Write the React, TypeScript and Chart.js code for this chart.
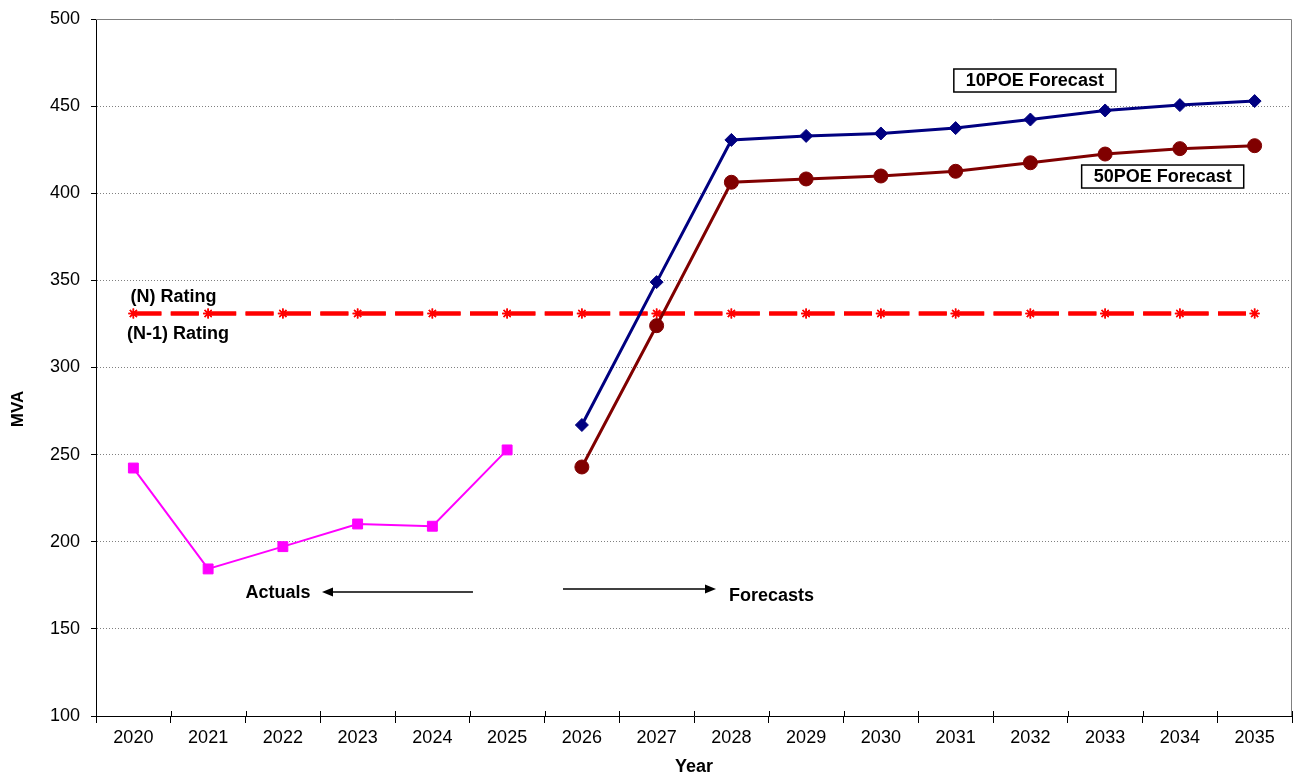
import React, { useEffect, useRef } from 'react';
import { Chart, registerables } from 'chart.js';

Chart.register(...registerables);

// ---- data ----
const years = ['2020', '2021', '2022', '2023', '2024', '2025', '2026', '2027', '2028', '2029', '2030', '2031', '2032', '2033', '2034', '2035'];
const actuals = [242.3, 184.4, 197.2, 210.2, 208.9, 252.7, null, null, null, null, null, null, null, null, null, null];
const poe10Forecast = [null, null, null, null, null, null, 267.0, 349.0, 430.6, 432.9, 434.3, 437.4, 442.3, 447.5, 450.6, 452.9];
const poe50Forecast = [null, null, null, null, null, null, 242.9, 324.0, 406.3, 408.2, 409.9, 412.6, 417.5, 422.5, 425.6, 427.3];
const nRating = [331, 331, 331, 331, 331, 331, 331, 331, 331, 331, 331, 331, 331, 331, 331, 331];
const n1Rating = [331, 331, 331, 331, 331, 331, 331, 331, 331, 331, 331, 331, 331, 331, 331, 331];
const yTicks = [100, 150, 200, 250, 300, 350, 400, 450, 500];

// ---- notes placed in data units (category index, MVA) ----
const plainNotes = [
  { text: '(N) Rating', x: 0.536, y: 340.5 },
  { text: '(N-1) Rating', x: 0.597, y: 319.2 },
  { text: 'Actuals', x: 1.934, y: 170.6 },
  { text: 'Forecasts', x: 8.536, y: 168.9 },
];
const boxedNotes = [
  { text: '10POE Forecast', x: 12.06, y: 464.7 },
  { text: '50POE Forecast', x: 13.77, y: 409.6 },
];
const arrows = [
  { from: [4.543, 171.2], to: [2.523, 171.2] },
  { from: [5.747, 172.9], to: [7.794, 172.9] },
];

const FAMILY = '"Liberation Sans", Arial, Helvetica, sans-serif';
const WIDTH = 1295;
const HEIGHT = 778;

const decorations = {
  id: 'decorations',
  beforeDatasetsDraw(chart: any) {
    const { ctx, chartArea: a } = chart;
    const xs = chart.scales.x;
    ctx.save();
    // grey frame along the top and right of the plot area
    ctx.strokeStyle = '#808080';
    ctx.lineWidth = 1;
    ctx.beginPath();
    ctx.moveTo(a.left, Math.round(a.top) + 0.5);
    ctx.lineTo(Math.round(a.right) - 0.5, Math.round(a.top) + 0.5);
    ctx.lineTo(Math.round(a.right) - 0.5, a.bottom);
    ctx.stroke();
    // upper half of the crossing tick marks on the category axis
    ctx.strokeStyle = '#000';
    ctx.beginPath();
    for (let i = 0; i <= years.length; i++) {
      const px = Math.round(xs.getPixelForValue(i - 0.5)) + 0.5;
      ctx.moveTo(px, a.bottom - 5);
      ctx.lineTo(px, a.bottom);
    }
    ctx.stroke();
    ctx.restore();
  },
  afterDatasetsDraw(chart: any) {
    const { ctx } = chart;
    const xs = chart.scales.x;
    const ys = chart.scales.y;
    ctx.save();
    ctx.fillStyle = '#000';
    ctx.textAlign = 'center';
    ctx.textBaseline = 'middle';
    ctx.font = `bold 18px ${FAMILY}`;
    for (const n of plainNotes) {
      ctx.fillText(n.text, xs.getPixelForValue(n.x), ys.getPixelForValue(n.y));
    }
    for (const n of boxedNotes) {
      const cx = xs.getPixelForValue(n.x);
      const cy = ys.getPixelForValue(n.y);
      const w = ctx.measureText(n.text).width + 24;
      const h = 23;
      ctx.fillStyle = '#fff';
      ctx.fillRect(cx - w / 2, cy - h / 2, w, h);
      ctx.strokeStyle = '#000';
      ctx.lineWidth = 1.5;
      ctx.strokeRect(cx - w / 2, cy - h / 2, w, h);
      ctx.fillStyle = '#000';
      ctx.fillText(n.text, cx, cy + 1);
    }
    ctx.strokeStyle = '#000';
    ctx.lineWidth = 1.5;
    for (const ar of arrows) {
      const x1 = xs.getPixelForValue(ar.from[0]);
      const y1 = ys.getPixelForValue(ar.from[1]);
      const x2 = xs.getPixelForValue(ar.to[0]);
      const y2 = ys.getPixelForValue(ar.to[1]);
      const ang = Math.atan2(y2 - y1, x2 - x1);
      const len = 11;
      const half = 4.5;
      const bx = x2 - Math.cos(ang) * len;
      const by = y2 - Math.sin(ang) * len;
      ctx.beginPath();
      ctx.moveTo(x1, y1);
      ctx.lineTo(bx, by);
      ctx.stroke();
      ctx.beginPath();
      ctx.moveTo(x2, y2);
      ctx.lineTo(bx - Math.sin(ang) * half, by + Math.cos(ang) * half);
      ctx.lineTo(bx + Math.sin(ang) * half, by - Math.cos(ang) * half);
      ctx.closePath();
      ctx.fill();
    }
    ctx.restore();
  },
  afterDraw(chart: any) {
    const { ctx, chartArea: a } = chart;
    ctx.save();
    ctx.fillStyle = '#000';
    ctx.textAlign = 'center';
    ctx.textBaseline = 'middle';
    ctx.font = `bold 18px ${FAMILY}`;
    ctx.fillText('Year', (a.left + a.right) / 2, 767);
    ctx.translate(18, 409);
    ctx.rotate(-Math.PI / 2);
    ctx.font = `bold 17px ${FAMILY}`;
    ctx.fillText('MVA', 0, 0);
    ctx.restore();
  },
};

export default function App() {
  const canvasRef = useRef<HTMLCanvasElement | null>(null);

  useEffect(() => {
    const canvas = canvasRef.current;
    if (!canvas) return;
    const chart = new Chart(canvas, {
      type: 'line',
      data: {
        labels: years,
        datasets: [
          {
            label: '10POE Forecast',
            data: poe10Forecast,
            borderColor: '#000080',
            backgroundColor: '#000080',
            borderWidth: 3,
            pointStyle: 'rectRot',
            pointRadius: 6.5,
            pointBorderWidth: 1,
            spanGaps: false,
          },
          {
            label: '50POE Forecast',
            data: poe50Forecast,
            borderColor: '#800000',
            backgroundColor: '#800000',
            borderWidth: 3,
            pointStyle: 'circle',
            pointRadius: 7,
            pointBorderWidth: 1,
            spanGaps: false,
          },
          {
            label: 'Actuals',
            data: actuals,
            borderColor: '#FF00FF',
            backgroundColor: '#FF00FF',
            borderWidth: 2,
            pointStyle: 'rect',
            pointRadius: 7,
            pointBorderWidth: 1,
            spanGaps: false,
          },
          {
            label: '(N-1) Rating',
            data: n1Rating,
            borderColor: '#FF0000',
            backgroundColor: '#FF0000',
            borderWidth: 4,
            borderDash: [28, 9.4],
            pointStyle: 'star',
            pointRadius: 5,
            pointBorderWidth: 1.5,
          },
          {
            label: '(N) Rating',
            data: nRating,
            borderColor: '#FF0000',
            backgroundColor: '#FF0000',
            borderWidth: 4,
            borderDash: [28, 9.4],
            pointStyle: 'star',
            pointRadius: 5,
            pointBorderWidth: 1.5,
          },
        ],
      },
      options: {
        animation: false,
        responsive: false,
        devicePixelRatio: 1,
        layout: { autoPadding: false, padding: { top: 19, right: 3, left: 0, bottom: 0 } },
        plugins: {
          legend: { display: false },
          tooltip: { enabled: false },
        },
        elements: { line: { tension: 0 } },
        scales: {
          x: {
            type: 'category',
            offset: true,
            grid: {
              offset: true,
              drawOnChartArea: false,
              drawTicks: true,
              tickLength: 7,
              tickColor: '#000',
              tickWidth: 1,
            },
            border: { color: '#000', width: 1 },
            ticks: {
              color: '#000',
              font: { family: FAMILY, size: 18 },
              padding: 4,
              maxRotation: 0,
              autoSkip: false,
            },
            afterFit: (s: any) => {
              s.height = 62;
              s.paddingLeft = 0;
              s.paddingRight = 0;
            },
          },
          y: {
            min: 100,
            max: 500,
            afterBuildTicks: (s: any) => {
              s.ticks = yTicks.map((v) => ({ value: v }));
            },
            grid: {
              color: (c: any) => (c.tick && (c.tick.value === 100 || c.tick.value === 500) ? 'rgba(0,0,0,0)' : '#808080'),
              lineWidth: 1,
              drawTicks: true,
              tickLength: 5,
              tickColor: '#000',
              tickWidth: 1,
            },
            border: { color: '#000', width: 1, dash: [1, 2] },
            ticks: {
              color: '#000',
              font: { family: FAMILY, size: 18 },
              padding: 11,
            },
            afterFit: (s: any) => {
              s.width = 96;
              s.paddingTop = 0;
              s.paddingBottom = 0;
            },
          },
        },
      },
      plugins: [decorations],
    });
    return () => chart.destroy();
  }, []);

  return (
    <div style={{ position: 'fixed', left: 0, top: 0, width: WIDTH, height: HEIGHT, background: '#fff' }}>
      <canvas ref={canvasRef} width={WIDTH} height={HEIGHT} style={{ display: 'block', width: WIDTH, height: HEIGHT }} />
    </div>
  );
}
